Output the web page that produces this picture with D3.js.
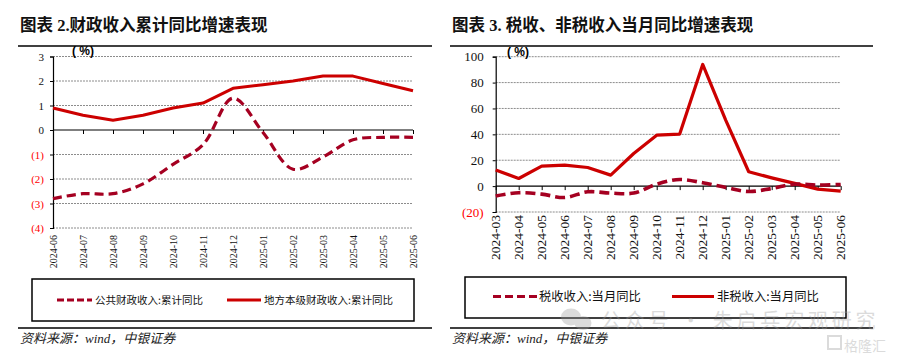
<!DOCTYPE html>
<html><head><meta charset="utf-8">
<script src="https://cdn.jsdelivr.net/npm/d3@7"></script>
<style>body{margin:0;background:#fff}svg{display:block}</style>
</head><body>
<script>
// ---- data ----
const leftCats = ['2024-06','2024-07','2024-08','2024-09','2024-10','2024-11','2024-12','2025-01','2025-02','2025-03','2025-04','2025-05','2025-06'];
const leftPublic = [-2.8,-2.6,-2.6,-2.2,-1.4,-0.6,1.3,-0.1,-1.6,-1.1,-0.4,-0.3,-0.3];
const leftLocal = [0.9,0.6,0.4,0.6,0.9,1.1,1.7,1.85,2.0,2.2,2.2,1.9,1.6];
const leftYTicks = [3,2,1,0,-1,-2,-3,-4];
const leftNames = ['公共财政收入:累计同比','地方本级财政收入:累计同比'];

const rightCats = ['2024-03','2024-04','2024-05','2024-06','2024-07','2024-08','2024-09','2024-10','2024-11','2024-12','2025-01','2025-02','2025-03','2025-04','2025-05','2025-06'];
const rightTax = [-7.7,-5.1,-6.2,-8.8,-4.4,-5.4,-5.4,1.5,5.1,2.6,-1.0,-4.2,-1.8,1.5,0.8,1.3];
const rightNonTax = [12.4,5.9,15.4,16.2,14.4,8.5,25.2,39.4,40.2,94.0,51.0,11.1,6.4,2.1,-2.3,-3.9];
const rightYTicks = [100,80,60,40,20,0,-20];
const rightNames = ['税收收入:当月同比','非税收入:当月同比'];

const titles = ['图表 2.财政收入累计同比增速表现','图表 3. 税收、非税收入当月同比增速表现'];
const source = '资料来源：wind，中银证券';
const watermark = '公众号 · 朱启兵宏观研究';
const logoText = '格隆汇';

// ---- styles ----
const RED = '#CC0000', CRIMSON = '#A50021';
const serif = '"Liberation Serif","Times New Roman",serif';
const cjk = '"Noto Sans CJK SC","Liberation Serif",sans-serif';

const svg = d3.select('body').append('svg').attr('width',902).attr('height',356);

function fmt(v){ return v < 0 ? '(' + Math.abs(v) + ')' : String(v); }

function panel(o){
  const g = svg.append('g');
  g.append('text').attr('x',o.titleX).attr('y',31)
    .attr('font-family','"Liberation Serif","Noto Sans CJK SC",serif').attr('font-weight','bold')
    .attr('font-size',16.5).attr('fill','#111').text(o.title);
  g.append('line').attr('x1',o.frameX0).attr('x2',o.frameX1).attr('y1',46).attr('y2',46)
    .attr('stroke','#000').attr('stroke-width',1.5);
  g.append('line').attr('x1',o.frameX0).attr('x2',o.frameX1).attr('y1',328).attr('y2',328)
    .attr('stroke','#000').attr('stroke-width',1.5);
  g.append('text').attr('x',o.titleX).attr('y',343)
    .attr('font-family',serif + ',"Noto Sans CJK SC"').attr('font-style','italic')
    .attr('font-size',13).attr('fill','#222').text(source);

  const x = d3.scalePoint().domain(o.cats).range([o.x0,o.x1]).padding(0);
  const y = d3.scaleLinear().domain(o.yDomain).range([o.yBottom,o.yTop]);

  g.append('g').selectAll('line').data(o.yTicks.filter(v=>v!==0)).join('line')
    .attr('x1',o.x0).attr('x2',o.x1).attr('y1',d=>y(d)).attr('y2',d=>y(d))
    .attr('stroke','#8c8c8c').attr('stroke-width',1).attr('stroke-dasharray','2,1');

  const ya = g.append('g').attr('transform',`translate(${o.x0},0)`)
    .call(d3.axisLeft(y).tickValues(o.yTicks).tickSize(3).tickPadding(o.yPad).tickFormat(fmt));
  ya.select('.domain').attr('stroke','#000').attr('stroke-width',1.2);
  ya.selectAll('.tick line').attr('stroke','#000');
  ya.selectAll('.tick text').attr('font-family',serif).attr('font-size',o.yFont)
    .attr('fill',d=>d<0?'#FF0000':'#111');

  const xa = g.append('g').attr('transform',`translate(0,${y(0)})`)
    .call(d3.axisBottom(x).tickSize(4).tickFormat(''));
  xa.select('.domain').attr('stroke','#000').attr('stroke-width',1.2).attr('d',`M${o.x0},0H${o.x1}`);
  xa.selectAll('.tick line').attr('stroke','#000');

  g.append('g').selectAll('text').data(o.cats).join('text')
    .attr('transform',d=>`translate(${x(d)},${o.labelTop}) rotate(-90)`)
    .attr('text-anchor','end').attr('dy','0.35em')
    .attr('font-family',serif).attr('font-size',o.xFont).attr('fill','#111').text(d=>d);

  g.append('text').attr('x',o.unitX).attr('y',o.unitY)
    .attr('font-family','"Liberation Sans",Arial,sans-serif').attr('font-weight','bold')
    .attr('font-size',12).attr('fill','#000').text('( %)');

  const lineStraight = d3.line().x((d,i)=>x(o.cats[i])).y(d=>y(d));
  const lineSmooth = d3.line().x((d,i)=>x(o.cats[i])).y(d=>y(d)).curve(d3.curveCatmullRom.alpha(0.5));
  g.append('path').datum(o.solid).attr('d',lineStraight).attr('fill','none')
    .attr('stroke',RED).attr('stroke-width',o.solidW).attr('stroke-linejoin','round');
  g.append('path').datum(o.dashed).attr('d',lineSmooth).attr('fill','none')
    .attr('stroke',CRIMSON).attr('stroke-width',o.dashW).attr('stroke-dasharray',o.dash);

  const L = o.legend;
  g.append('rect').attr('x',L.x).attr('y',L.y).attr('width',L.w).attr('height',L.h)
    .attr('fill','none').attr('stroke','#000').attr('stroke-width',1.5);
  const items = [
    {name:o.names[0], x1:L.a1, x2:L.a2, color:CRIMSON, dash:L.dash, tx:L.at},
    {name:o.names[1], x1:L.b1, x2:L.b2, color:RED, dash:null, tx:L.bt}
  ];
  items.forEach(it=>{
    g.append('line').attr('x1',it.x1).attr('x2',it.x2).attr('y1',L.iy).attr('y2',L.iy)
      .attr('stroke',it.color).attr('stroke-width',3.2).attr('stroke-dasharray',it.dash);
    g.append('text').attr('x',it.tx).attr('y',L.iy).attr('dy','0.36em')
      .attr('font-family',cjk).attr('font-size',L.font).attr('fill','#111').text(it.name);
  });
}

panel({
  title:titles[0], titleX:20, frameX0:18, frameX1:432,
  cats:leftCats, x0:53, x1:413, yDomain:[-4,3], yBottom:228, yTop:56.5,
  yTicks:leftYTicks, yFont:11, yPad:6, xFont:10, labelTop:235,
  unitX:72, unitY:55,
  solid:leftLocal, dashed:leftPublic, solidW:3, dashW:3.2, dash:'9,5',
  names:leftNames,
  legend:{x:32,y:279,w:382,h:42,iy:300,a1:57,a2:92,at:95,b1:227,b2:261,bt:264,dash:'7,3',font:10.5}
});

panel({
  title:titles[1], titleX:452, frameX0:450, frameX1:873,
  cats:rightCats, x0:495.7, x1:840.7, yDomain:[-20,100], yBottom:212, yTop:56.7,
  yTicks:rightYTicks, yFont:13, yPad:9, xFont:13.5, labelTop:215,
  unitX:507, unitY:56,
  solid:rightNonTax, dashed:rightTax, solidW:3.2, dashW:3.6, dash:'10,5',
  names:rightNames,
  legend:{x:465,y:277,w:381,h:41,iy:296.5,a1:493,a2:537,at:539,b1:672,b2:714,bt:717,dash:'8,4',font:12.3}
});

// watermark
const wm = svg.append('g').attr('opacity',0.35).attr('fill','#9a9a9a');
wm.append('ellipse').attr('cx',571).attr('cy',317).attr('rx',10).attr('ry',8.5);
wm.append('ellipse').attr('cx',583).attr('cy',323).attr('rx',8.5).attr('ry',7);
wm.append('text').attr('x',601).attr('y',328).attr('font-family',cjk).attr('font-size',20)
  .attr('letter-spacing',3.8).text(watermark);
wm.append('rect').attr('x',828).attr('y',336).attr('width',13).attr('height',13).attr('fill','none')
  .attr('stroke','#9a9a9a').attr('stroke-width',2);
wm.append('text').attr('x',844).attr('y',350.5).attr('font-family',cjk).attr('font-size',14).text(logoText);
</script>
</body></html>
